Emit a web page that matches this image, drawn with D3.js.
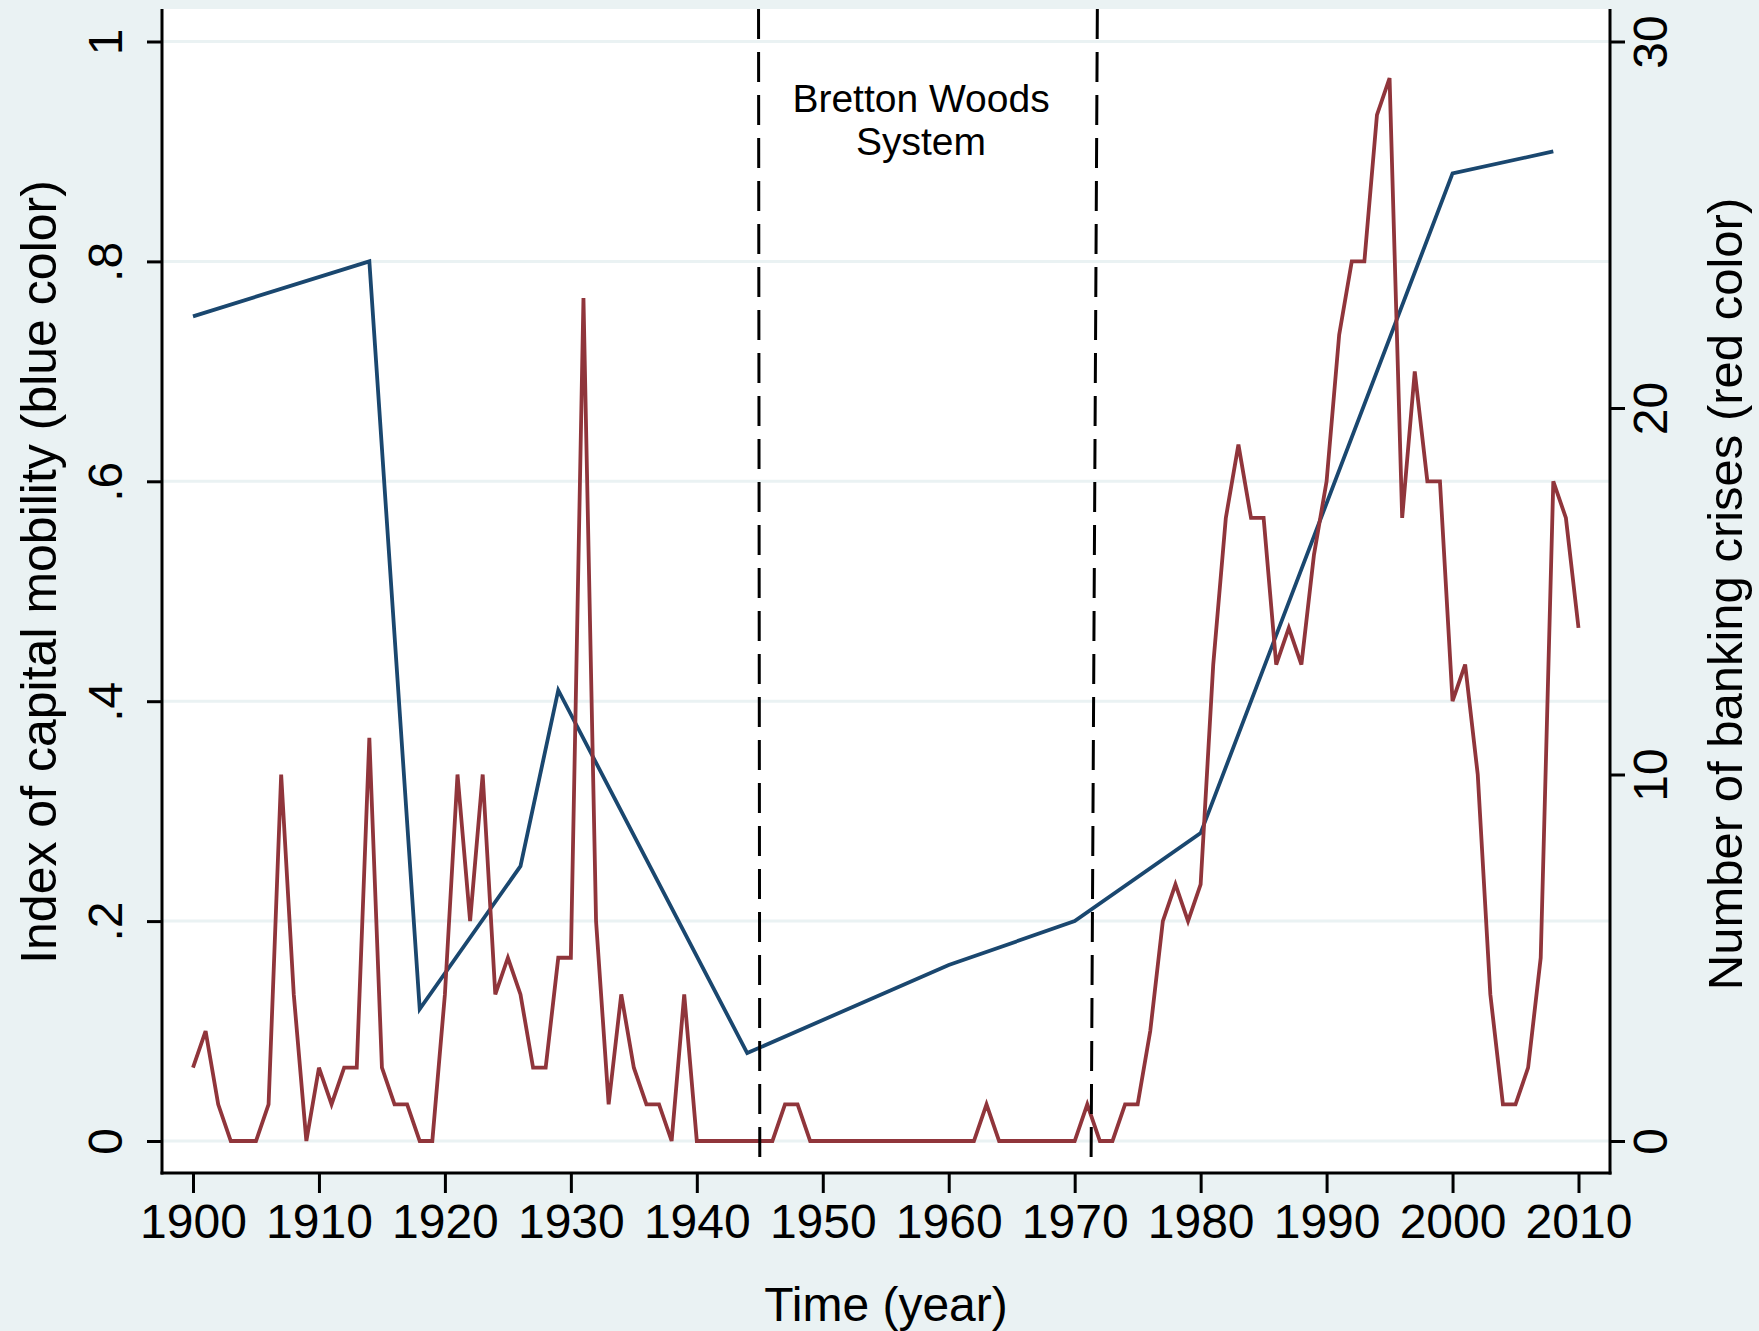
<!DOCTYPE html>
<html>
<head>
<meta charset="utf-8">
<title>Capital mobility and banking crises</title>
<script src="https://cdnjs.cloudflare.com/ajax/libs/d3/7.8.5/d3.min.js"></script>
<style>
  body { margin: 0; background: #eaf2f3; }
  text { font-family: "Liberation Sans", Arial, Helvetica, sans-serif; fill: #000; }
</style>
</head>
<body>
<svg id="chart" width="1759" height="1331"></svg>
<script>
// blue series: index of capital mobility (only the years where it is observed)
const mobilityYears = [1900, 1914, 1918, 1926, 1929, 1944, 1960, 1970, 1980, 2000, 2008];
const mobilityIndex = [0.75, 0.80, 0.12, 0.25, 0.41, 0.08, 0.16, 0.20, 0.28, 0.88, 0.90];

// red series: number of banking crises, one value per year 1900..2010
const crisisYears = d3.range(1900, 2011);
const crisisCount = [
  2, 3, 1, 0, 0, 0, 1, 10, 4, 0,        // 1900s
  2, 1, 2, 2, 11, 2, 1, 1, 0, 0,        // 1910s
  4, 10, 6, 10, 4, 5, 4, 2, 2, 5,       // 1920s
  5, 23, 6, 1, 4, 2, 1, 1, 0, 4,        // 1930s
  0, 0, 0, 0, 0, 0, 0, 1, 1, 0,         // 1940s
  0, 0, 0, 0, 0, 0, 0, 0, 0, 0,         // 1950s
  0, 0, 0, 1, 0, 0, 0, 0, 0, 0,         // 1960s
  0, 1, 0, 0, 1, 1, 3, 6, 7, 6,         // 1970s
  7, 13, 17, 19, 17, 17, 13, 14, 13, 16, // 1980s
  18, 22, 24, 24, 28, 29, 17, 21, 18, 18, // 1990s
  12, 13, 10, 4, 1, 1, 2, 5, 18, 17,    // 2000s
  14
];

// axes
const yearTicks = d3.range(1900, 2011, 10);
const leftTicks = [0, 0.2, 0.4, 0.6, 0.8, 1];
const leftTickLabels = ["0", ".2", ".4", ".6", ".8", "1"];
const rightTicks = [0, 10, 20, 30];

// Bretton Woods period (the dashed lines lean a little in the original)
const bwLineTop = [1944.9, 1971.8];
const bwLineBottom = [1945.0, 1971.3];
const bwLabel = ["Bretton Woods", "System"];
const bwLabelYear = 1957.8;

const svg = d3.select('#chart');
const width = +svg.attr('width');
const height = +svg.attr('height');

const plot = {left: 162, right: 1610, top: 9, bottom: 1173};
const blue = '#1a476f';
const red = '#90353b';
const fontSize = 48;

const x = d3.scaleLinear().domain([1900, 2010]).range([193, 1578.5]);
const yLeft = d3.scaleLinear().domain([0, 1]).range([1141, 41.5]);
const yRight = d3.scaleLinear().domain([0, 30]).range([1141, 41.5]);

svg.append('rect').attr('width', width).attr('height', height).attr('fill', '#eaf2f3');
svg.append('rect')
  .attr('x', plot.left).attr('y', plot.top)
  .attr('width', plot.right - plot.left).attr('height', plot.bottom - plot.top)
  .attr('fill', '#fff');

// grid lines
svg.append('g').selectAll('line')
  .data(leftTicks)
  .enter().append('line')
  .attr('x1', plot.left).attr('x2', plot.right)
  .attr('y1', d => yLeft(d)).attr('y2', d => yLeft(d))
  .attr('stroke', '#eaf2f3').attr('stroke-width', 3);

// series
const blueLine = d3.line().x((d, i) => x(mobilityYears[i])).y(d => yLeft(d));
svg.append('path').datum(mobilityIndex)
  .attr('d', blueLine)
  .attr('fill', 'none').attr('stroke', blue).attr('stroke-width', 3.8)
  .attr('stroke-linejoin', 'miter');

const redLine = d3.line().x((d, i) => x(crisisYears[i])).y(d => yRight(d));
svg.append('path').datum(crisisCount)
  .attr('d', redLine)
  .attr('fill', 'none').attr('stroke', red).attr('stroke-width', 3.8)
  .attr('stroke-linejoin', 'miter');

// Bretton Woods markers
svg.append('g').selectAll('line')
  .data(bwLineTop)
  .enter().append('line')
  .attr('x1', d => x(d)).attr('y1', plot.top)
  .attr('x2', (d, i) => x(bwLineBottom[i])).attr('y2', plot.bottom - 4)
  .attr('stroke', '#000').attr('stroke-width', 3)
  .attr('stroke-dasharray', '30,13');

svg.append('g').selectAll('text')
  .data(bwLabel)
  .enter().append('text')
  .attr('x', x(bwLabelYear))
  .attr('y', (d, i) => 112 + i * 43)
  .attr('text-anchor', 'middle')
  .attr('font-size', 39)
  .text(d => d);

// left axis
const gLeft = svg.append('g')
  .attr('transform', `translate(${plot.left},0)`)
  .call(d3.axisLeft(yLeft).tickValues(leftTicks).tickSize(15)
    .tickFormat((d, i) => leftTickLabels[i]));
gLeft.select('.domain').remove();
gLeft.selectAll('.tick line').attr('stroke', '#000').attr('stroke-width', 3);
gLeft.selectAll('.tick text')
  .attr('x', null).attr('dy', null)
  .attr('text-anchor', 'middle')
  .attr('font-size', fontSize).attr('font-family', null)
  .attr('transform', 'translate(-40,0) rotate(-90)');

// right axis
const gRight = svg.append('g')
  .attr('transform', `translate(${plot.right},0)`)
  .call(d3.axisRight(yRight).tickValues(rightTicks).tickSize(15).tickFormat(d3.format('d')));
gRight.select('.domain').remove();
gRight.selectAll('.tick line').attr('stroke', '#000').attr('stroke-width', 3);
gRight.selectAll('.tick text')
  .attr('x', null).attr('dy', null)
  .attr('text-anchor', 'middle')
  .attr('font-size', fontSize).attr('font-family', null)
  .attr('transform', 'translate(57,0) rotate(-90)');

// bottom axis
const gBottom = svg.append('g')
  .attr('transform', `translate(0,${plot.bottom})`)
  .call(d3.axisBottom(x).tickValues(yearTicks).tickSize(20).tickFormat(d3.format('d')));
gBottom.select('.domain').remove();
gBottom.selectAll('.tick line').attr('stroke', '#000').attr('stroke-width', 3);
gBottom.selectAll('.tick text')
  .attr('y', 65).attr('dy', null)
  .attr('font-size', fontSize).attr('font-family', null);

// axis lines
svg.append('line')
  .attr('x1', plot.left).attr('x2', plot.left).attr('y1', plot.top).attr('y2', plot.bottom + 1.5)
  .attr('stroke', '#000').attr('stroke-width', 3);
svg.append('line')
  .attr('x1', plot.right).attr('x2', plot.right).attr('y1', plot.top).attr('y2', plot.bottom + 1.5)
  .attr('stroke', '#000').attr('stroke-width', 3);
svg.append('line')
  .attr('x1', plot.left - 1.5).attr('x2', plot.right + 1.5).attr('y1', plot.bottom).attr('y2', plot.bottom)
  .attr('stroke', '#000').attr('stroke-width', 3);

// axis titles
svg.append('text')
  .attr('x', (plot.left + plot.right) / 2).attr('y', 1321)
  .attr('text-anchor', 'middle').attr('font-size', fontSize)
  .text('Time (year)');
svg.append('text')
  .attr('transform', `translate(56,572) rotate(-90)`)
  .attr('text-anchor', 'middle').attr('font-size', 50)
  .text('Index of capital mobility (blue color)');
svg.append('text')
  .attr('transform', `translate(1742,594) rotate(-90)`)
  .attr('text-anchor', 'middle').attr('font-size', 49)
  .text('Number of banking crises (red color)');
</script>
</body>
</html>
